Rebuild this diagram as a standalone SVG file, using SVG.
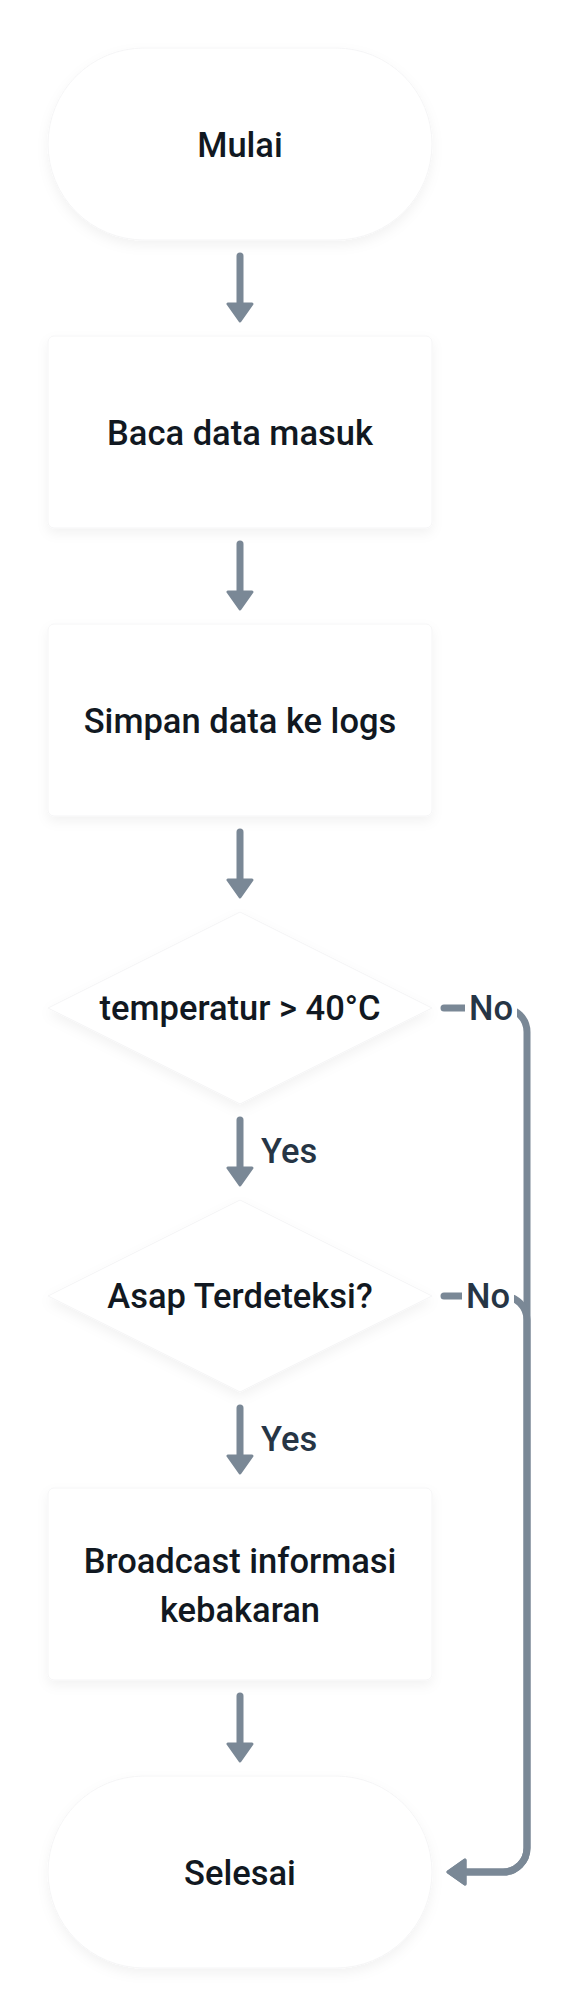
<svg xmlns="http://www.w3.org/2000/svg" width="584" height="2016" viewBox="0 0 584 2016">
  <defs>
    <style>
      .node { fill: #ffffff; stroke: #f5f5f6; stroke-width: 1; filter: url(#shadow); }
      .ntext { font-family: Roboto, "Liberation Sans", sans-serif; font-weight: 500; font-size: 34.5px; fill: #111821; text-anchor: middle; }
      .ltext { font-family: Roboto, "Liberation Sans", sans-serif; font-weight: 500; font-size: 34.5px; fill: #263545; }
      .edge { fill: none; stroke: #7a8896; stroke-width: 7; stroke-linecap: round; stroke-linejoin: round; }
      .lbg { fill: #ffffff; }
    </style>
    <filter id="shadow" x="-10%" y="-10%" width="120%" height="130%">
      <feDropShadow dx="0" dy="5" stdDeviation="6" flood-color="#000000" flood-opacity="0.05"/>
    </filter>
    <marker id="arrow" viewBox="0 0 21 28" refX="2" refY="14" markerWidth="21" markerHeight="28" markerUnits="userSpaceOnUse" orient="auto">
      <path d="M2,2 L19,14 L2,26 Z" fill="#7a8896" stroke="#7a8896" stroke-width="3" stroke-linejoin="round"/>
    </marker>
  </defs>
  <rect x="0" y="0" width="584" height="2016" fill="#ffffff"/>

  <g id="connectors">
    <path class="edge" d="M240 256 V304" marker-end="url(#arrow)"/>
    <path class="edge" d="M240 544 V592" marker-end="url(#arrow)"/>
    <path class="edge" d="M240 832 V880" marker-end="url(#arrow)"/>
    <path class="edge" d="M240 1120 V1168" marker-end="url(#arrow)"/>
    <path class="edge" d="M240 1408 V1456" marker-end="url(#arrow)"/>
    <path class="edge" d="M240 1696 V1744" marker-end="url(#arrow)"/>
    <path class="edge" d="M444 1008 H503 A24 24 0 0 1 527 1032 V1848 A24 24 0 0 1 503 1872 H465" marker-end="url(#arrow)"/>
    <path class="edge" d="M444 1296 H503 A24 24 0 0 1 527 1320 V1848 A24 24 0 0 1 503 1872 H465" marker-end="url(#arrow)"/>
    <text class="ltext" x="261" y="1163">Yes</text>
    <text class="ltext" x="261" y="1451">Yes</text>
    <rect class="lbg" x="465" y="988" width="52" height="40"/>
    <text class="ltext" x="469" y="1020">No</text>
    <rect class="lbg" x="462" y="1276" width="52" height="40"/>
    <text class="ltext" x="466" y="1308">No</text>
  </g>

  <g id="start">
    <rect class="node" x="48" y="48" width="384" height="192" rx="96" ry="96"/>
    <text class="ntext" x="240" y="157">Mulai</text>
  </g>
  <g id="read">
    <rect class="node" x="48" y="336" width="384" height="192" rx="6" ry="6"/>
    <text class="ntext" x="240" y="445">Baca data masuk</text>
  </g>
  <g id="save">
    <rect class="node" x="48" y="624" width="384" height="192" rx="6" ry="6"/>
    <text class="ntext" x="240" y="733">Simpan data ke logs</text>
  </g>
  <g id="tempCheck">
    <polygon class="node" points="240,912 432,1008 240,1104 48,1008"/>
    <text class="ntext" x="240" y="1020">temperatur &gt; 40°C</text>
  </g>
  <g id="smokeCheck">
    <polygon class="node" points="240,1200 432,1296 240,1392 48,1296"/>
    <text class="ntext" x="240" y="1308">Asap Terdeteksi?</text>
  </g>
  <g id="broadcast">
    <rect class="node" x="48" y="1488" width="384" height="192" rx="6" ry="6"/>
    <text class="ntext" x="240" y="1573">Broadcast informasi</text>
    <text class="ntext" x="240" y="1622">kebakaran</text>
  </g>
  <g id="end">
    <rect class="node" x="48" y="1776" width="384" height="192" rx="96" ry="96"/>
    <text class="ntext" x="240" y="1885">Selesai</text>
  </g>
</svg>
